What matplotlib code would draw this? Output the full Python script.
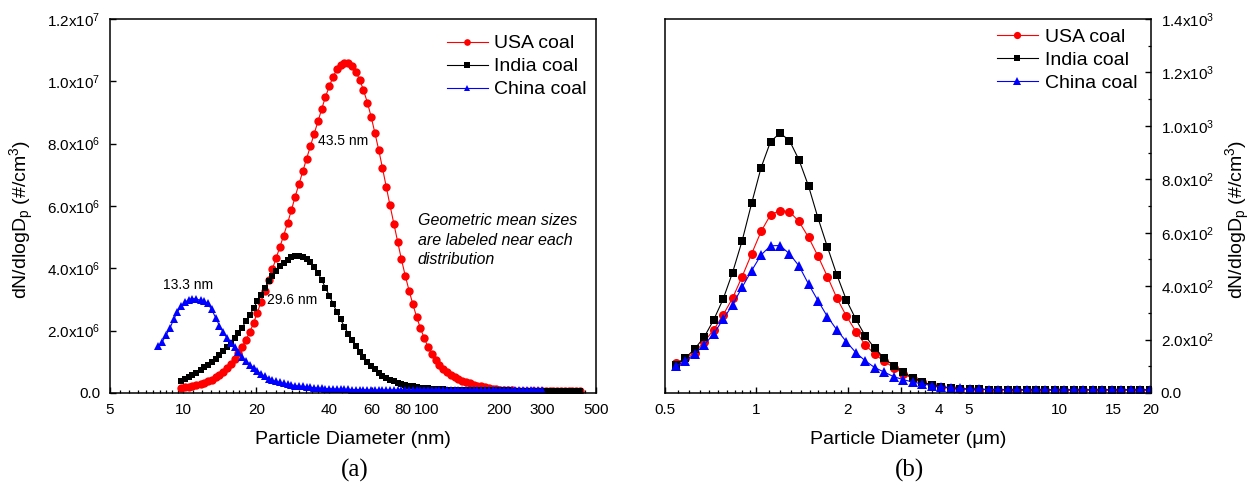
import numpy as np
import matplotlib
matplotlib.use("Agg")
import matplotlib.pyplot as plt
from matplotlib.ticker import FixedLocator, FuncFormatter, MultipleLocator, NullFormatter

plt.rcParams["font.family"] = ["Liberation Sans", "DejaVu Sans"]
plt.rcParams["mathtext.fontset"] = "custom"
plt.rcParams["mathtext.rm"] = "Liberation Sans"
plt.rcParams["mathtext.it"] = "Liberation Sans:italic"

# ---------------- SMPS (nm) ----------------
smps_dp = [7.91, 8.20, 8.51, 8.82, 9.14, 9.47, 9.82, 10.2, 10.6, 10.9,
           11.3, 11.8, 12.2, 12.6, 13.1, 13.6, 14.1, 14.6, 15.1, 15.7,
           16.3, 16.8, 17.5, 18.1, 18.8, 19.5, 20.2, 20.9, 21.7, 22.5,
           23.3, 24.1, 25.0, 25.9, 26.9, 27.9, 28.9, 30.0, 31.1, 32.2,
           33.4, 34.6, 35.9, 37.2, 38.5, 40.0, 41.4, 42.9, 44.5, 46.1,
           47.8, 49.6, 51.4, 53.3, 55.2, 57.3, 59.4, 61.5, 63.8, 66.1,
           68.5, 71.0, 73.7, 76.4, 79.1, 82.0, 85.1, 88.2, 91.4, 94.7,
           98.2, 101.8, 105.5, 109.4, 113.4, 117.6, 121.9, 126.3, 131.0, 135.8,
           140.7, 145.9, 151.2, 156.8, 162.5, 168.5, 174.7, 181.1, 187.7, 194.6,
           201.7, 209.1, 216.7, 224.7, 232.9, 241.4, 250.3, 259.5, 269.0, 278.8,
           289.0, 299.6, 310.6, 322.0, 333.8, 346.0, 358.7, 371.8, 385.4, 399.5,
           414.2, 429.4]

# dN/dlogDp in units of 1e6 #/cm3
usa_smps = [0.17, 0.18, 0.20, 0.22, 0.25, 0.28, 0.32, 0.37, 0.43, 0.50,
            0.58, 0.68, 0.80, 0.94, 1.10, 1.28, 1.48, 1.70, 1.95, 2.25,
            2.58, 2.92, 3.27, 3.62, 3.97, 4.32, 4.68, 5.05, 5.45, 5.87,
            6.30, 6.72, 7.12, 7.52, 7.92, 8.32, 8.72, 9.12, 9.50, 9.85,
            10.15, 10.38, 10.52, 10.60, 10.58, 10.48, 10.30, 10.05, 9.72, 9.32,
            8.86, 8.35, 7.80, 7.22, 6.62, 6.02, 5.42, 4.84, 4.29, 3.77,
            3.28, 2.84, 2.44, 2.08, 1.76, 1.48, 1.24, 1.05, 0.90, 0.78,
            0.68, 0.59, 0.51, 0.45, 0.40, 0.35, 0.31, 0.27, 0.24, 0.21,
            0.18, 0.16, 0.14, 0.12, 0.11, 0.10, 0.09, 0.09, 0.08, 0.08,
            0.08, 0.08, 0.07, 0.07, 0.07, 0.07, 0.07, 0.07, 0.07, 0.07,
            0.07, 0.07, 0.07, 0.07, 0.07, 0.07]
india_smps = [0.38, 0.45, 0.52, 0.58, 0.65, 0.74, 0.82, 0.90, 1.00, 1.10,
              1.22, 1.35, 1.48, 1.62, 1.76, 1.92, 2.10, 2.30, 2.50, 2.72,
              2.95, 3.16, 3.38, 3.58, 3.76, 3.92, 4.06, 4.18, 4.28, 4.35,
              4.39, 4.40, 4.37, 4.31, 4.20, 4.05, 3.85, 3.62, 3.38, 3.12,
              2.86, 2.60, 2.36, 2.12, 1.90, 1.69, 1.50, 1.32, 1.16, 1.01,
              0.88, 0.76, 0.65, 0.56, 0.48, 0.42, 0.37, 0.33, 0.29, 0.26,
              0.23, 0.21, 0.19, 0.17, 0.16, 0.15, 0.14, 0.13, 0.12, 0.12,
              0.11, 0.11, 0.11, 0.10, 0.10, 0.10, 0.10, 0.10, 0.09, 0.09,
              0.09, 0.09, 0.09, 0.09, 0.09, 0.09, 0.09, 0.08, 0.08, 0.08,
              0.08, 0.08, 0.08, 0.08, 0.08, 0.08, 0.08, 0.08, 0.08, 0.08,
              0.08, 0.08, 0.08, 0.08, 0.08, 0.08]
china_smps = [1.50, 1.64, 1.86, 2.08, 2.36, 2.60, 2.78, 2.92, 3.00, 3.03,
              3.02, 2.97, 2.94, 2.88, 2.68, 2.42, 2.16, 1.95, 1.78, 1.62,
              1.46, 1.32, 1.16, 1.03, 0.91, 0.80, 0.70, 0.61, 0.53, 0.46,
              0.41, 0.37, 0.34, 0.31, 0.28, 0.26, 0.24, 0.22, 0.21, 0.19,
              0.18, 0.17, 0.16, 0.15, 0.14, 0.14, 0.13, 0.13, 0.12, 0.12,
              0.12, 0.11, 0.11, 0.11, 0.11, 0.10, 0.10, 0.10, 0.10, 0.10,
              0.10, 0.10, 0.10, 0.10, 0.10, 0.10, 0.10, 0.10, 0.10, 0.10,
              0.10, 0.10, 0.10, 0.10, 0.10, 0.10, 0.10, 0.10, 0.10, 0.10,
              0.10, 0.10, 0.10, 0.10, 0.10, 0.10, 0.10, 0.10, 0.10, 0.10,
              0.10, 0.10, 0.10, 0.10, 0.10, 0.10, 0.10, 0.10, 0.10, 0.10,
              0.10, 0.10]
smps_unit = 1e6
usa_start, india_start, china_start = 6, 6, 0

# ---------------- APS (um) ----------------
aps_dp = [0.542, 0.583, 0.626, 0.673, 0.723, 0.777, 0.835, 0.898, 0.965, 1.037,
          1.114, 1.197, 1.286, 1.382, 1.486, 1.596, 1.715, 1.843, 1.981, 2.129,
          2.288, 2.458, 2.642, 2.839, 3.051, 3.278, 3.523, 3.786, 4.068, 4.371,
          4.698, 5.048, 5.425, 5.829, 6.264, 6.732, 7.234, 7.774, 8.354, 8.977,
          9.647, 10.37, 11.14, 11.97, 12.86, 13.82, 14.86, 15.96, 17.15, 18.43,
          19.81]
usa_aps = [111, 130, 151, 192, 236, 292, 355, 436, 521, 605,
           667, 683, 679, 642, 583, 513, 436, 355, 288, 230,
           180, 145, 118, 95, 72, 54, 40, 29, 22, 17,
           15, 14, 13, 12, 12, 12, 11, 11, 11, 11,
           11, 11, 11, 11, 11, 11, 11, 11, 11, 11, 11]
india_aps = [105, 130, 165, 209, 273, 351, 451, 570, 710, 844,
             941, 973, 945, 873, 775, 656, 547, 442, 348, 276,
             213, 167, 130, 101, 78, 57, 42, 30, 24, 19,
             16, 15, 14, 13, 13, 12, 12, 12, 12, 12,
             12, 12, 12, 12, 12, 12, 12, 12, 12, 12, 12]
china_aps = [100, 120, 146, 180, 221, 276, 330, 396, 458, 517,
             551, 552, 521, 476, 408, 346, 286, 236, 192, 151,
             120, 95, 78, 61, 50, 41, 34, 28, 23, 19,
             17, 15, 14, 13, 13, 12, 12, 12, 12, 12,
             12, 12, 12, 12, 12, 12, 12, 12, 12, 12, 12]

series_names = ["USA coal", "India coal", "China coal"]
series_colors = ["#ff0000", "#000000", "#0000ff"]
series_markers = ["o", "s", "^"]

left_xticks = [5, 10, 20, 40, 60, 80, 100, 200, 300, 500]
right_xticks = [0.5, 1, 2, 3, 4, 5, 10, 15, 20]
gmd_labels = ["43.5 nm", "29.6 nm", "13.3 nm"]


def sci_label(v, pos):
    if abs(v) < 1e-12:
        return "0.0"
    e = int(np.floor(np.log10(abs(v)) + 1e-9))
    m = v / 10 ** e
    return f"{m:.1f}x10$^{{{e}}}$"


def num_label(v, pos):
    return f"{v:g}"


fig = plt.figure(figsize=(12.51, 4.91), dpi=100)
W, H = 1251, 491
ax1 = fig.add_axes([110 / W, 98 / H, 486 / W, 374 / H])
ax2 = fig.add_axes([665 / W, 98 / H, 486 / W, 374 / H])

legend_kw = dict(loc="upper left", frameon=False, fontsize=14, handlelength=2.1,
                 handletextpad=0.35, labelspacing=0.28, borderaxespad=0,
                 borderpad=0, markerscale=0.8)

# ---- panel (a)
smps = np.array(smps_dp)
for vals, start, c, mk, ms, name in zip(
        [usa_smps, india_smps, china_smps],
        [usa_start, india_start, china_start],
        series_colors, series_markers, [6.0, 5.0, 6.0], series_names):
    x = smps[start:start + len(vals)]
    ax1.plot(x, np.array(vals) * smps_unit, color=c, lw=0.8, marker=mk,
             ms=ms, mec=c, mfc=c, mew=0, label=name)

ax1.set_xscale("log")
ax1.set_xlim(5, 500)
ax1.set_ylim(0, 1.2e7)
ax1.xaxis.set_major_locator(FixedLocator(left_xticks))
ax1.xaxis.set_major_formatter(FuncFormatter(num_label))
minor_a = [5.5, 6, 6.5, 7, 7.5, 8, 8.5, 9, 9.5, 11, 12, 13, 14, 15, 16, 17, 18, 19,
           22, 24, 26, 28, 30, 32, 34, 36, 38, 45, 50, 55, 65, 70, 75, 85, 90, 95,
           120, 140, 160, 180, 250, 350, 400, 450]
ax1.xaxis.set_minor_locator(FixedLocator(minor_a))
ax1.xaxis.set_minor_formatter(NullFormatter())
ax1.yaxis.set_major_locator(MultipleLocator(2e6))
ax1.yaxis.set_major_formatter(FuncFormatter(sci_label))
ax1.tick_params(axis="both", which="both", direction="in", top=False, right=False)
ax1.tick_params(axis="both", which="major", length=4, width=1.0, labelsize=11, pad=7)
ax1.tick_params(axis="x", which="minor", length=2.5, width=0.9)
ax1.set_xlabel("Particle Diameter (nm)", fontsize=14, labelpad=10)
ax1.set_ylabel("dN/dlogD$_{\\mathrm{p}}$ (#/cm$^{3}$)", fontsize=14)
ax1.yaxis.set_label_coords(-0.152, 0.463)
ax1.legend(bbox_to_anchor=(0.693, 0.958), **legend_kw)

ax1.text(45.6, 8.1e6, gmd_labels[0], fontsize=10, ha="center", va="center")
ax1.text(28.2, 2.98e6, gmd_labels[1], fontsize=10, ha="center", va="center")
ax1.text(10.45, 3.45e6, gmd_labels[2], fontsize=10, ha="center", va="center")
ax1.text(0.633, 0.409, "Geometric mean sizes\nare labeled near each\ndistribution",
         transform=ax1.transAxes, fontsize=11.5, style="italic", ha="left",
         va="center", linespacing=1.35)

# ---- panel (b)
aps = np.array(aps_dp)
for vals, c, mk, ms, name in zip([usa_aps, india_aps, china_aps], series_colors,
                                 series_markers, [6.5, 6.0, 6.5], series_names):
    ax2.plot(aps, vals, color=c, lw=0.8, marker=mk, ms=ms, mec=c, mfc=c, mew=0,
             label=name)

ax2.set_xscale("log")
ax2.set_xlim(0.5, 20)
ax2.set_ylim(0, 1400)
ax2.xaxis.set_major_locator(FixedLocator(right_xticks))
ax2.xaxis.set_major_formatter(FuncFormatter(num_label))
minor_b = [0.55, 0.6, 0.65, 0.7, 0.75, 0.8, 0.85, 0.9, 0.95,
           1.1, 1.2, 1.3, 1.4, 1.5, 1.6, 1.7, 1.8, 1.9,
           2.2, 2.4, 2.6, 2.8, 3.2, 3.4, 3.6, 3.8, 4.5,
           6, 7, 8, 9, 11, 12, 13, 14, 16, 17, 18, 19]
ax2.xaxis.set_minor_locator(FixedLocator(minor_b))
ax2.xaxis.set_minor_formatter(NullFormatter())
ax2.yaxis.tick_right()
ax2.yaxis.set_label_position("right")
ax2.yaxis.set_major_locator(MultipleLocator(200))
ax2.yaxis.set_minor_locator(MultipleLocator(100))
ax2.yaxis.set_major_formatter(FuncFormatter(sci_label))
ax2.tick_params(axis="both", which="both", direction="in", top=False, left=False)
ax2.tick_params(axis="both", which="major", length=4, width=1.0, labelsize=11, pad=7)
ax2.tick_params(axis="both", which="minor", length=2.5, width=0.9)
ax2.set_xlabel("Particle Diameter (\u03bcm)", fontsize=14, labelpad=10)
ax2.set_ylabel("dN/dlogD$_{\\mathrm{p}}$ (#/cm$^{3}$)", fontsize=14, rotation=90)
ax2.yaxis.set_label_coords(1.149, 0.463)
ax2.legend(bbox_to_anchor=(0.683, 0.976), **legend_kw)

for ax in (ax1, ax2):
    for sp in ax.spines.values():
        sp.set_linewidth(1.1)

fig.text(355 / W, 1 - 470 / H, "(a)", fontsize=18, family="Liberation Serif",
         ha="center", va="center")
fig.text(910 / W, 1 - 470 / H, "(b)", fontsize=18, family="Liberation Serif",
         ha="center", va="center")

fig.savefig("out.png", dpi=100)
